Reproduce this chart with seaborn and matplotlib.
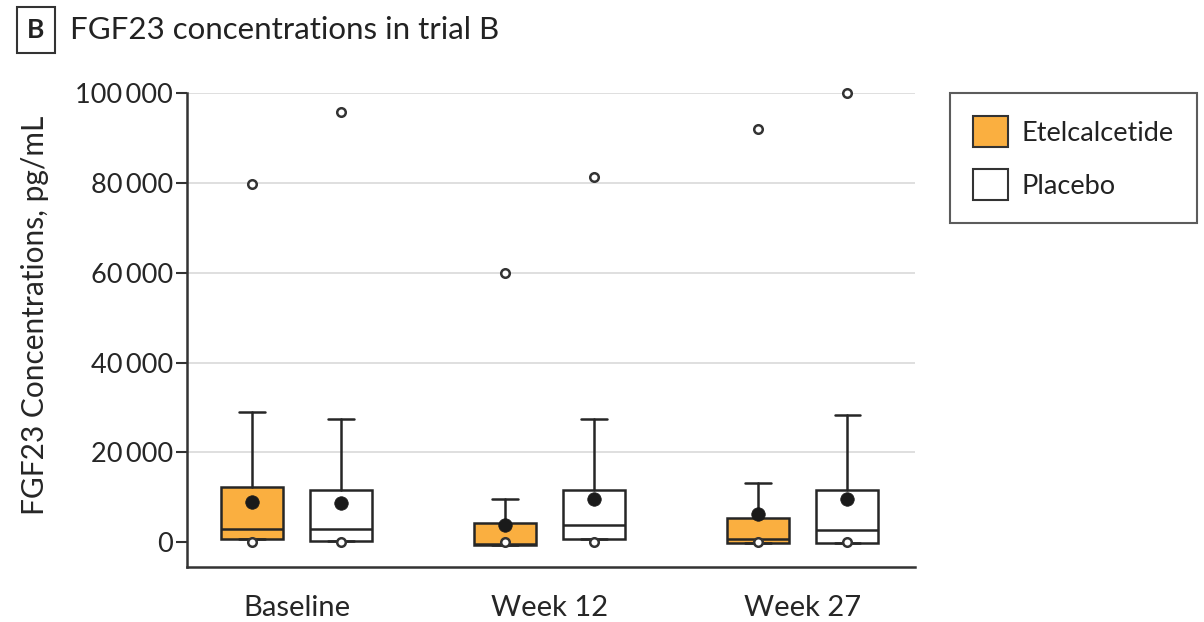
import matplotlib
matplotlib.use("Agg")
import matplotlib.pyplot as plt
from matplotlib.patches import Patch
from matplotlib.ticker import FuncFormatter
import numpy as np
import pandas as pd
import seaborn as sns

# Visit labels and treatment arms
groups = ["Baseline", "Week 12", "Week 27"]
arms = ["Etelcalcetide", "Placebo"]

# Summary statistics of FGF23 (pg/mL) per arm and visit
etel_q1 = [800, -600, -200]
etel_median = [2900, -300, 800]
etel_q3 = [12200, 4300, 5400]
etel_whisker_hi = [28900, 9700, 13200]
etel_mean = [8900, 3800, 6200]
etel_max = [79800, 60000, 92000]
etel_min = [0, 0, 0]

placebo_q1 = [300, 800, -200]
placebo_median = [2900, 3800, 2800]
placebo_q3 = [11700, 11700, 11700]
placebo_whisker_hi = [27400, 27400, 28400]
placebo_mean = [8700, 9600, 9600]
placebo_max = [95800, 81200, 100000]
placebo_min = [0, 0, 0]

y_ticks = [0, 20000, 40000, 60000, 80000, 100000]

arm_stats = {
    "Etelcalcetide": dict(q1=etel_q1, med=etel_median, q3=etel_q3,
                          whishi=etel_whisker_hi, mean=etel_mean,
                          max=etel_max, min=etel_min),
    "Placebo": dict(q1=placebo_q1, med=placebo_median, q3=placebo_q3,
                    whishi=placebo_whisker_hi, mean=placebo_mean,
                    max=placebo_max, min=placebo_min),
}
arm_colors = {"Etelcalcetide": "#FAAF40", "Placebo": "#FFFFFF"}
offsets = {"Etelcalcetide": -0.176, "Placebo": 0.176}
edge = "#262626"

sns.set_theme(style="white")
plt.rcParams["font.family"] = ["Lato", "DejaVu Sans"]
plt.rcParams["text.color"] = "#222222"

fig = plt.figure(figsize=(12.04, 6.22), dpi=100)
ax = fig.add_axes([187 / 1204, 1 - 567 / 622, (915 - 187) / 1204, (567 - 93) / 622])

# Box-and-whisker glyphs built from the summary statistics
bstats, positions, faces = [], [], []
points = []
for arm in arms:
    s = arm_stats[arm]
    for i, g in enumerate(groups):
        bstats.append(dict(med=s["med"][i], q1=s["q1"][i], q3=s["q3"][i],
                           whislo=s["q1"][i], whishi=s["whishi"][i],
                           fliers=[], label=g))
        x = i + offsets[arm]
        positions.append(x)
        faces.append(arm_colors[arm])
        points.append(dict(x=x, y=s["mean"][i], kind="mean"))
        points.append(dict(x=x, y=s["max"][i], kind="extreme"))
        points.append(dict(x=x, y=s["min"][i], kind="extreme"))

bp = ax.bxp(bstats, positions=positions, widths=0.244, capwidths=0.10,
            patch_artist=True, showfliers=False,
            boxprops=dict(edgecolor=edge, linewidth=1.8),
            medianprops=dict(color=edge, linewidth=1.8),
            whiskerprops=dict(color=edge, linewidth=1.8),
            capprops=dict(color=edge, linewidth=1.8), zorder=3)
for patch, fc in zip(bp["boxes"], faces):
    patch.set_facecolor(fc)

pts = pd.DataFrame(points)
sns.scatterplot(data=pts[pts.kind == "mean"], x="x", y="y", ax=ax,
                color="#1a1a1a", s=95, edgecolor="#1a1a1a", linewidth=0.5,
                zorder=5, legend=False)
sns.scatterplot(data=pts[pts.kind == "extreme"], x="x", y="y", ax=ax,
                color="white", s=38, edgecolor="#333333", linewidth=1.8,
                zorder=5, legend=False, clip_on=False)

# Axes, ticks and grid
ax.set_xlim(-0.433, 2.444)
ax.set_ylim(-5500, 100000)
ax.set_xticks(range(len(groups)))
ax.set_xticklabels(groups, fontsize=21)
ax.set_yticks(y_ticks)
ax.yaxis.set_major_formatter(FuncFormatter(lambda v, p: f"{int(v):,}".replace(",", "\u2009")))
ax.tick_params(axis="y", direction="out", length=8, width=1.5, color="#333333",
               labelsize=19.5, pad=2, left=True)
ax.tick_params(axis="x", length=0, pad=20)
ax.set_xlabel("")
ax.set_ylabel("FGF23 Concentrations, pg/mL", fontsize=21.5)
ax.yaxis.set_label_coords(-0.19, 0.53)

ax.grid(axis="y", color="#dcdcdc", linewidth=1.3)
ax.set_axisbelow(True)
for gl, t in zip(ax.yaxis.get_gridlines(), y_ticks):
    if t == 0:
        gl.set_visible(False)

for side in ("top", "right"):
    ax.spines[side].set_visible(False)
for side in ("left", "bottom"):
    ax.spines[side].set_color("#333333")
    ax.spines[side].set_linewidth(1.8)

# Legend
handles = [Patch(facecolor=arm_colors[a], edgecolor="#333333", linewidth=1.5, label=a)
           for a in arms]
leg = fig.legend(handles=handles, loc="upper left",
                 bbox_to_anchor=(950 / 1204, 1 - 93 / 622), fontsize=19.5,
                 frameon=True, fancybox=False, handlelength=1.3, handleheight=1.4,
                 borderpad=0.85, labelspacing=0.8, handletextpad=0.5,
                 borderaxespad=0)
leg.get_frame().set_edgecolor("#333333")
leg.get_frame().set_linewidth(1.5)

# Panel heading
fig.text(36 / 1204, 1 - 30 / 622, "B", fontsize=19, fontweight="bold",
         ha="center", va="center",
         bbox=dict(boxstyle="square,pad=0.4", facecolor="white",
                   edgecolor="#333333", linewidth=1.5))
fig.text(70 / 1204, 1 - 30 / 622, "FGF23 concentrations in trial B",
         fontsize=22.5, ha="left", va="center")

fig.savefig("out.png", dpi=100)
